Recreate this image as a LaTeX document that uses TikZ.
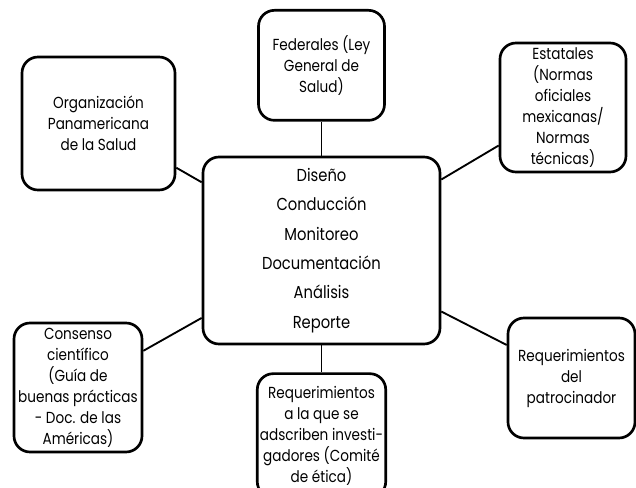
\documentclass[tikz,border=0pt]{standalone}
\usepackage{fontspec}
\setmainfont{Poppins}[FakeStretch=0.85]
\usetikzlibrary{positioning}

\begin{document}
\begin{tikzpicture}[x=0.75pt, y=-0.75pt,
  box/.style={draw, rectangle, rounded corners=12pt, line width=2pt, align=center, inner sep=2pt,
    font=\fontsize{12}{15.75}\selectfont},
  link/.style={line width=1.4pt}]
  \useasboundingbox (0,0) rectangle (636,488);

  \node[box, minimum width=177.75pt, minimum height=140.25pt, font=\fontsize{13}{22}\selectfont] (centre) at (321.5,250.5)
    {Diseño\\Conducción\\Monitoreo\\Documentación\\Análisis\\Reporte};

  \node[box, minimum width=94.5pt, minimum height=82.5pt, above=25.5pt of centre] (federales) {Federales (Ley\\General de\\Salud)};
  \node[box, minimum width=95.25pt, minimum height=93pt, below=20.25pt of centre] (investigadores)
    {Requerimientos\\a la que se\\adscriben investi-\\gadores (Comité\\de ética)};

  \node[box, minimum width=114.75pt, minimum height=99.75pt] (ops) at (98.5,123.5) {Organización\\Panamericana\\de la Salud};
  \node[box, minimum width=94.5pt, minimum height=96.75pt] (estatales) at (563,107.5)
    {Estatales\\(Normas\\oficiales\\mexicanas/\\Normas\\técnicas)};
  \node[box, minimum width=96pt, minimum height=96.75pt] (consenso) at (78,387.5)
    {Consenso\\científico\\(Guía de\\buenas prácticas\\- Doc. de las\\Américas)};
  \node[box, minimum width=95.25pt, minimum height=90pt] (patrocinador) at (571.5,378)
    {Requerimientos\\del\\patrocinador};

  \draw[link] (centre) -- (federales);
  \draw[link] (centre) -- (investigadores);
  \draw[link] (centre) -- (ops);
  \draw[link] (centre) -- (estatales);
  \draw[link] (centre) -- (consenso);
  \draw[link] (centre) -- (patrocinador);
\end{tikzpicture}
\end{document}
